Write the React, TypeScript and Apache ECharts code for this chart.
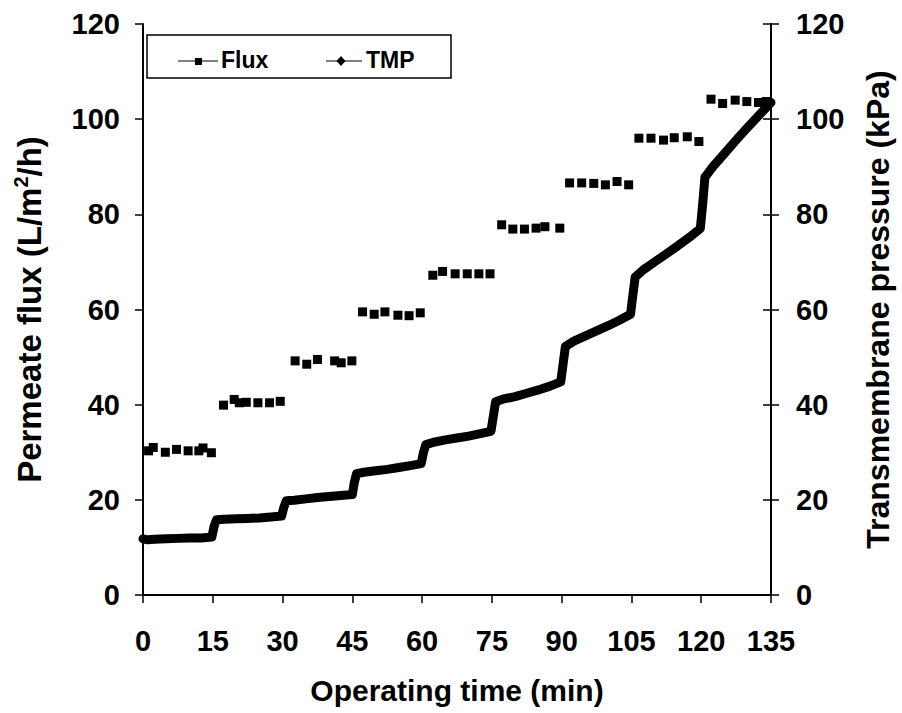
import React, { useEffect, useRef } from "react";
import * as echarts from "echarts";

const xTicks = [0, 15, 30, 45, 60, 75, 90, 105, 120, 135];

const fluxTime = [
  1.2, 2.2, 4.8, 7.2, 9.7, 12.0, 12.9, 14.7,
  17.3, 19.6, 20.7, 22.2, 24.7, 27.2, 29.5,
  32.7, 35.2, 37.5, 41.2, 42.6, 44.9,
  47.2, 49.7, 52.0, 54.8, 57.2, 59.6,
  62.3, 64.4, 67.1, 69.7, 72.2, 74.6,
  77.1, 79.5, 82.0, 84.5, 86.4, 89.6,
  91.7, 94.3, 96.9, 99.4, 101.9, 104.4,
  106.6, 109.2, 111.9, 114.2, 117.0, 119.5,
  122.1, 124.6, 127.3, 129.8, 132.3, 134.0,
];
const fluxValue = [
  30.3, 31.0, 30.0, 30.6, 30.3, 30.3, 30.9, 29.9,
  39.9, 41.1, 40.4, 40.5, 40.4, 40.4, 40.7,
  49.2, 48.5, 49.5, 49.2, 48.8, 49.2,
  59.5, 59.0, 59.5, 58.8, 58.7, 59.3,
  67.2, 68.0, 67.5, 67.5, 67.5, 67.5,
  77.8, 76.9, 76.9, 77.1, 77.4, 77.1,
  86.6, 86.6, 86.5, 86.2, 86.9, 86.2,
  96.0, 96.0, 95.6, 96.1, 96.3, 95.3,
  104.2, 103.3, 104.0, 103.7, 103.5, 103.7,
];

const tmpTime = [
  0, 1, 2.5, 5, 7.5, 10, 12.5, 14.8,
  15.3, 15.8, 17.5, 20, 22.5, 25, 27.5, 29.8,
  30.3, 30.8, 32.5, 35, 37.5, 40, 42.5, 45,
  45.4, 45.9, 47.5, 50, 52.5, 55, 57.5, 59.8,
  60.3, 60.8, 62.5, 65, 67.5, 70, 72.5, 74.8,
  75.3, 75.8, 77.5, 80, 82.5, 85, 87.5, 89.8,
  90.3, 90.8, 92.5, 95, 97.5, 100, 102.5, 104.8,
  105.3, 105.8, 107.5, 110, 112.5, 115, 117.5, 119.8,
  120.3, 120.8, 122.5, 125, 127.5, 130, 132.5, 135,
];
const tmpValue = [
  11.8, 11.6, 11.7, 11.8, 11.9, 12.0, 12.0, 12.2,
  14.5, 15.8, 15.9, 16.0, 16.1, 16.2, 16.4, 16.6,
  18.5, 19.8, 19.9, 20.2, 20.5, 20.7, 20.9, 21.1,
  23.5, 25.5, 25.8, 26.1, 26.4, 26.8, 27.2, 27.6,
  30.0, 31.6, 32.1, 32.6, 33.0, 33.4, 33.9, 34.4,
  37.5, 40.6, 41.2, 41.7, 42.4, 43.1, 43.9, 44.8,
  48.5, 52.2, 53.3, 54.4, 55.5, 56.6, 57.8, 59.0,
  63.0, 66.8, 68.3, 70.0, 71.7, 73.4, 75.2, 77.0,
  82.0, 87.8, 90.0, 92.8, 95.6, 98.3, 100.9, 103.5,
];

const FONT = "Liberation Sans, Arial, sans-serif";

export default function App() {
  const ref = useRef<HTMLDivElement>(null);
  useEffect(() => {
    if (!ref.current) return;
    const chart = echarts.init(ref.current, null, { renderer: "svg" });
    const fluxData = fluxTime.map((t, i) => [t, fluxValue[i]]);
    const tmpData = tmpTime.map((t, i) => [t, tmpValue[i]]);
    const tickLabel = { color: "#000", fontSize: 29, fontWeight: "bold" as const, fontFamily: FONT };
    const nameStyle = { color: "#000", fontWeight: "bold" as const, fontFamily: FONT };
    chart.setOption({
      animation: false,
      backgroundColor: "#fff",
      grid: { left: 143, right: 123, top: 24, bottom: 118, containLabel: false },
      xAxis: {
        type: "value",
        min: 0,
        max: 135,
        interval: 15,
        name: "Operating time (min)",
        nameLocation: "middle",
        nameGap: 80,
        nameTextStyle: { ...nameStyle, fontSize: 30 },
        axisLine: { lineStyle: { color: "#000", width: 2 } },
        axisTick: { show: true, length: 8, lineStyle: { color: "#000", width: 1.5 } },
        axisLabel: { ...tickLabel, margin: 31, formatter: (v: number) => (xTicks.includes(v) ? String(v) : "") },
        splitLine: { show: false },
      },
      yAxis: [
        {
          type: "value",
          min: 0,
          max: 120,
          interval: 20,
          position: "left",
          name: "Permeate flux (L/m{sup|2}/h)",
          nameLocation: "middle",
          nameRotate: 90,
          nameGap: 96,
          nameTextStyle: {
            ...nameStyle,
            fontSize: 33,
            rich: { sup: { fontSize: 20, fontWeight: "bold", fontFamily: FONT, verticalAlign: "top", padding: [0, 0, 16, 0] } },
          },
          axisLine: { show: true, lineStyle: { color: "#000", width: 2 } },
          axisTick: { show: true, length: 8, lineStyle: { color: "#000", width: 1.5 } },
          axisLabel: { ...tickLabel, margin: 23 },
          splitLine: { show: false },
        },
        {
          type: "value",
          min: 0,
          max: 120,
          interval: 20,
          position: "right",
          name: "Transmembrane pressure (kPa)",
          nameLocation: "middle",
          nameRotate: 90,
          nameGap: 91,
          nameTextStyle: { ...nameStyle, fontSize: 32 },
          axisLine: { show: true, lineStyle: { color: "#000", width: 2 } },
          axisTick: { show: true, length: 8, lineStyle: { color: "#000", width: 1.5 } },
          axisLabel: { ...tickLabel, margin: 25 },
          splitLine: { show: false },
        },
        {
          type: "value",
          min: 0,
          max: 120,
          interval: 20,
          position: "right",
          axisLine: { show: false },
          axisTick: { show: true, inside: true, length: 8, lineStyle: { color: "#000", width: 1.5 } },
          axisLabel: { show: false },
          splitLine: { show: false },
        },
      ],
      series: [
        {
          name: "TMP",
          type: "line",
          yAxisIndex: 1,
          data: tmpData,
          symbol: "none",
          lineStyle: { color: "#000", width: 9, cap: "round", join: "round" },
          z: 2,
        },
        {
          name: "Flux",
          type: "scatter",
          yAxisIndex: 0,
          data: fluxData,
          symbol: "rect",
          symbolSize: 9,
          itemStyle: { color: "#000", opacity: 1 },
          z: 3,
        },
      ],
      graphic: [
        {
          type: "rect",
          shape: { x: 147, y: 35, width: 304, height: 43 },
          style: { fill: "#fff", stroke: "#000", lineWidth: 1.5 },
          z: 10,
        },
        { type: "line", shape: { x1: 178, y1: 61, x2: 218, y2: 61 }, style: { stroke: "#000", lineWidth: 1.2 }, z: 11 },
        { type: "rect", shape: { x: 195, y: 58, width: 7, height: 7 }, style: { fill: "#000" }, z: 11 },
        { type: "text", x: 221, y: 60, style: { text: "Flux", fontSize: 23, fontWeight: "bold", fontFamily: FONT, fill: "#000", verticalAlign: "middle" }, z: 11 },
        { type: "line", shape: { x1: 326, y1: 61, x2: 362, y2: 61 }, style: { stroke: "#000", lineWidth: 1.2 }, z: 11 },
        { type: "polygon", shape: { points: [[341, 56], [345.5, 61], [341, 66], [336.5, 61]] }, style: { fill: "#000" }, z: 11 },
        { type: "text", x: 366, y: 60, style: { text: "TMP", fontSize: 23, fontWeight: "bold", fontFamily: FONT, fill: "#000", verticalAlign: "middle" }, z: 11 },
      ],
    });
    return () => chart.dispose();
  }, []);
  return (
    <div
      ref={ref}
      style={{ position: "fixed", left: 0, top: 0, width: 902, height: 713, background: "#fff" }}
    />
  );
}
